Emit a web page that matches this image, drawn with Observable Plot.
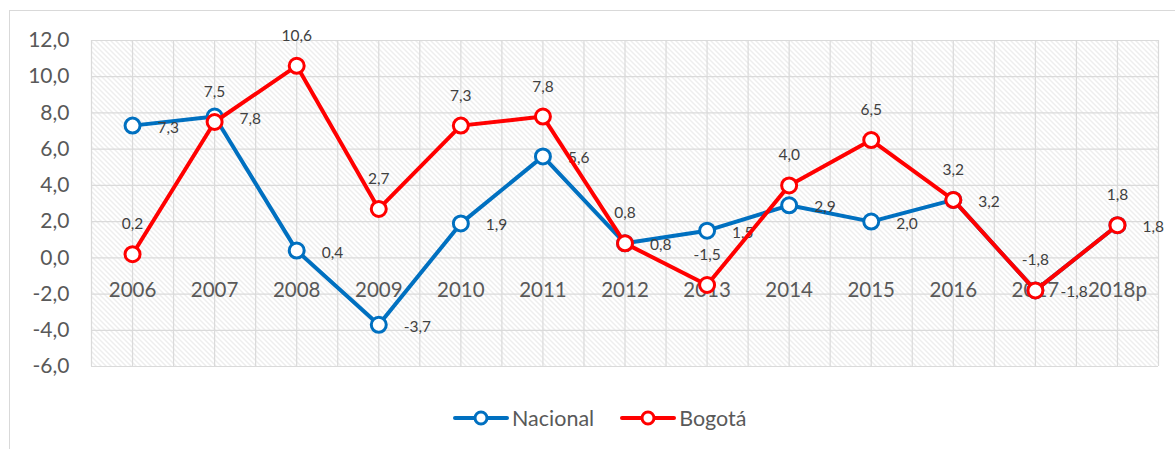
<!DOCTYPE html>
<html>
<head>
<meta charset="utf-8">
<script src="https://cdn.jsdelivr.net/npm/d3@7"></script>
<script src="https://cdn.jsdelivr.net/npm/@observablehq/plot@0.6"></script>
<style>
  html, body { margin: 0; padding: 0; background: #fff; }
  body { width: 1175px; height: 449px; position: relative; overflow: hidden; font-family: Lato, "Open Sans", sans-serif; }
  #box { position: absolute; left: 9px; top: 10px; width: 1300px; height: 600px; border: 1px solid #d9d9d9; box-sizing: border-box; }
  #chart { position: absolute; left: 0; top: 0; }
  #legend { position: absolute; left: 453px; top: 403px; height: 30px; display: flex; align-items: center; }
  .item { display: flex; align-items: center; font-size: 21.5px; color: #595959; }
  .item svg { margin-right: 3px; }
</style>
</head>
<body>
<div id="box"></div>
<div id="chart"></div>
<div id="legend"></div>
<script>
const years = ["2006","2007","2008","2009","2010","2011","2012","2013","2014","2015","2016","2017","2018p"];
const nacional = [7.3, 7.8, 0.4, -3.7, 1.9, 5.6, 0.8, 1.5, 2.9, 2.0, 3.2, -1.8, 1.8];
const bogota = [0.2, 7.5, 10.6, 2.7, 7.3, 7.8, 0.8, -1.5, 4.0, 6.5, 3.2, -1.8, 1.8];
const yTicks = [-6, -4, -2, 0, 2, 4, 6, 8, 10, 12];
const seriesNames = ["Nacional", "Bogotá"];
const seriesColors = ["#0070C0", "#FF0000"];

const fmt = v => v.toFixed(1).replace(".", ",");
const rows = years.map((year, i) => ({ i, year, nacional: nacional[i], bogota: bogota[i] }));
const xGrid = d3.range(0, years.length * 2 + 1).map(k => k / 2 - 0.5);

const svg = Plot.plot({
  width: 1175,
  height: 400,
  marginLeft: 91,
  marginRight: 17,
  marginTop: 40,
  marginBottom: 34,
  x: { type: "linear", domain: [-0.5, years.length - 0.5], axis: null },
  y: { domain: [-6, 12], axis: null },
  style: { fontFamily: "Lato, 'Open Sans', sans-serif", background: "transparent", overflow: "visible" },
  marks: [
    Plot.frame({ fill: "url(#hatch)", stroke: "none" }),
    Plot.gridY(yTicks, { stroke: "#dadada", strokeOpacity: 1, strokeWidth: 1.2 }),
    Plot.gridX(xGrid, { stroke: "#dadada", strokeOpacity: 1, strokeWidth: 1.2 }),
    Plot.axisY(yTicks, { tickSize: 0, tickPadding: 22, tickFormat: fmt, fontSize: 21, fill: "#595959" }),
    Plot.text(rows, { x: "i", y: () => 0, text: "year", dy: 33, fontSize: 20.5, fill: "#595959" }),
    Plot.line(rows, { x: "i", y: "nacional", stroke: seriesColors[0], strokeWidth: 4 }),
    Plot.dot(rows, { x: "i", y: "nacional", r: 7.5, fill: "white", stroke: seriesColors[0], strokeWidth: 3 }),
    Plot.text(rows, { x: "i", y: "nacional", text: d => fmt(d.nacional), dx: 25, dy: 2, textAnchor: "start", fontSize: 15.5, fill: "#404040" }),
    Plot.line(rows, { x: "i", y: "bogota", stroke: seriesColors[1], strokeWidth: 4 }),
    Plot.dot(rows, { x: "i", y: "bogota", r: 7.5, fill: "white", stroke: seriesColors[1], strokeWidth: 3 }),
    Plot.text(rows, { x: "i", y: "bogota", text: d => fmt(d.bogota), dy: -30, fontSize: 15.5, fill: "#404040" })
  ]
});

const defs = d3.select(svg).insert("defs", ":first-child");
const pat = defs.append("pattern")
  .attr("id", "hatch")
  .attr("patternUnits", "userSpaceOnUse")
  .attr("width", 5)
  .attr("height", 5);
pat.append("path")
  .attr("d", "M-1,-1L6,6M-1,4L1,6M4,-1L6,1")
  .attr("stroke", "#dcdcdc")
  .attr("stroke-width", 1)
  .attr("fill", "none");

document.getElementById("chart").appendChild(svg);

const legend = d3.select("#legend");
seriesNames.forEach((name, k) => {
  const item = legend.append("div").attr("class", "item").style("margin-right", k === 0 ? "26px" : "0");
  const s = item.append("svg").attr("width", 56).attr("height", 18);
  s.append("line").attr("x1", 2).attr("x2", 54).attr("y1", 9).attr("y2", 9)
    .attr("stroke", seriesColors[k]).attr("stroke-width", 4).attr("stroke-linecap", "round");
  s.append("circle").attr("cx", 28).attr("cy", 9).attr("r", 6)
    .attr("fill", "white").attr("stroke", seriesColors[k]).attr("stroke-width", 3);
  item.append("span").text(name);
});
</script>
</body>
</html>
